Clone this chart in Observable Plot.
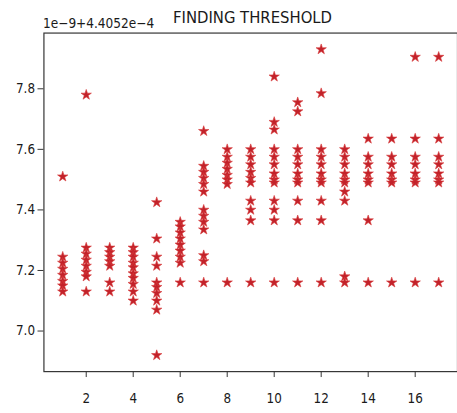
<!DOCTYPE html>
<html>
<head>
<meta charset="utf-8">
<script src="https://cdn.jsdelivr.net/npm/d3@7"></script>
<script src="https://cdn.jsdelivr.net/npm/@observablehq/plot@0.6"></script>
<style>
  html, body { margin: 0; padding: 0; background: #fff; overflow: hidden; }
  #wrap { position: relative; width: 457px; height: 413px; overflow: hidden; }
  .lbl { position: absolute; font-family: "DejaVu Sans Condensed", "DejaVu Sans", sans-serif; font-stretch: condensed; color: #1a1a1a; white-space: nowrap; line-height: 1; }
</style>
</head>
<body>
<div id="wrap">
  <div class="lbl" id="offset" style="left:43px; top:17px; font-size:13.5px;">1e−9+4.4052e−4</div>
  <div class="lbl" id="title" style="left:0; width:505px; text-align:center; top:10px; font-size:16.5px;">FINDING THRESHOLD</div>
</div>
<script>
// x positions (run index) and y values (in units of 1e-9, offset 4.4052e-4)
const xIndex = [1, 2, 3, 4, 5, 6, 7, 8, 9, 10, 11, 12, 13, 14, 15, 16, 17];
const v1  = [7.51, 7.245, 7.225, 7.205, 7.185, 7.165, 7.15, 7.13];
const v2  = [7.78, 7.275, 7.255, 7.235, 7.215, 7.195, 7.18, 7.13];
const v3  = [7.275, 7.26, 7.245, 7.23, 7.215, 7.16, 7.13];
const v4  = [7.275, 7.26, 7.245, 7.225, 7.21, 7.19, 7.175, 7.155, 7.13, 7.1];
const v5  = [7.425, 7.305, 7.245, 7.215, 7.16, 7.145, 7.125, 7.1, 7.07, 6.92];
const v6  = [7.36, 7.345, 7.325, 7.305, 7.285, 7.265, 7.245, 7.225, 7.16];
const v7  = [7.66, 7.545, 7.525, 7.505, 7.485, 7.46, 7.4, 7.38, 7.36, 7.335, 7.25, 7.23, 7.16];
const v8  = [7.6, 7.575, 7.555, 7.535, 7.515, 7.5, 7.485, 7.16];
const v9  = [7.6, 7.575, 7.55, 7.525, 7.505, 7.49, 7.43, 7.4, 7.365, 7.16];
const v10 = [7.84, 7.69, 7.665, 7.6, 7.575, 7.55, 7.52, 7.5, 7.49, 7.43, 7.4, 7.365, 7.16];
const v11 = [7.755, 7.725, 7.6, 7.575, 7.55, 7.52, 7.5, 7.49, 7.43, 7.365, 7.16];
const v12 = [7.93, 7.785, 7.6, 7.575, 7.55, 7.52, 7.5, 7.49, 7.43, 7.365, 7.16];
const v13 = [7.6, 7.575, 7.55, 7.52, 7.5, 7.49, 7.46, 7.43, 7.18, 7.16];
const v14 = [7.635, 7.575, 7.55, 7.52, 7.5, 7.49, 7.365, 7.16];
const v15 = [7.635, 7.575, 7.55, 7.52, 7.5, 7.49, 7.16];
const v16 = [7.905, 7.635, 7.575, 7.55, 7.52, 7.5, 7.49, 7.16];
const v17 = [7.905, 7.635, 7.575, 7.55, 7.52, 7.5, 7.49, 7.16];
const xTicks = [2, 4, 6, 8, 10, 12, 14, 16];
const yTicks = [7.0, 7.2, 7.4, 7.6, 7.8];

const columns = [v1, v2, v3, v4, v5, v6, v7, v8, v9, v10, v11, v12, v13, v14, v15, v16, v17];
const points = columns.flatMap((vals, i) => vals.map(v => ({x: xIndex[i], y: v})));

const fontFam = '"DejaVu Sans Condensed", "DejaVu Sans", sans-serif';

const chart = Plot.plot({
  width: 463,
  height: 413,
  marginLeft: 44,
  marginRight: 0,
  marginTop: 33,
  marginBottom: 37,
  style: {fontFamily: fontFam, fontSize: "13.5px", color: "#1a1a1a", background: "transparent", fontStretch: "condensed"},
  x: {domain: [0.2, 17.8]},
  y: {domain: [6.866, 7.984]},
  marks: [
    Plot.frame({stroke: "#333", strokeWidth: 1.2}),
    Plot.axisX({ticks: xTicks, tickSize: 6, tickPadding: 16, label: null, tickFormat: d => String(d), stroke: "#333"}),
    Plot.axisY({ticks: yTicks, tickSize: 6, tickPadding: 3, label: null, tickFormat: d => d.toFixed(1), stroke: "#333"}),
    Plot.dot(points, {x: "x", y: "y", symbol: "star", r: 3.3, fill: "#c2222a", stroke: "#d83a3a", strokeWidth: 0.6})
  ]
});
chart.style.position = "absolute";
chart.style.left = "0";
chart.style.top = "0";
document.getElementById("wrap").prepend(chart);
</script>
</body>
</html>
